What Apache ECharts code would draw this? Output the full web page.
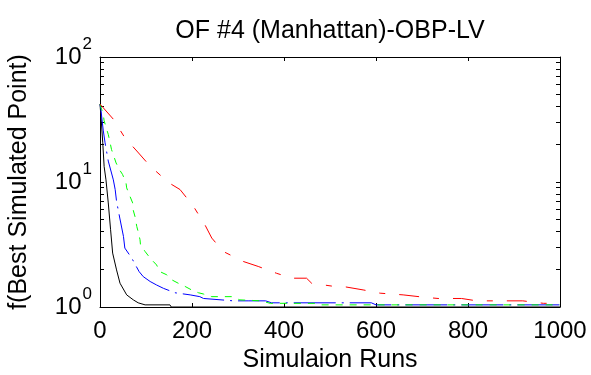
<!DOCTYPE html>
<html>
<head>
<meta charset="utf-8">
<script src="https://cdn.jsdelivr.net/npm/echarts@6/dist/echarts.min.js"></script>
<style>
  html, body { margin: 0; padding: 0; background: #fff; }
  #chart { width: 591px; height: 375px; }
</style>
</head>
<body>
<div id="chart"></div>
<script>
// Best objective value found so far versus number of simulation runs
const chartTitle = 'OF #4 (Manhattan)-OBP-LV';
const xName = 'Simulaion Runs';
const yName = 'f(Best Simulated Point)';

const xTicks = [0, 200, 400, 600, 800, 1000];
const yTickExps = [0, 1, 2];

const blackX = [0, 3, 6, 9, 13, 18, 23, 27.5, 36, 43.5, 58, 72.5, 83, 98, 152, 155, 1000];
const blackY = [42, 30, 20.6, 13.3, 10.4, 6.8, 4.15, 2.7, 1.98, 1.55, 1.25, 1.14, 1.08, 1.04, 1.04, 1.0, 1.0];

const blueX = [0, 2, 5, 7, 11, 18, 25, 29, 33, 36, 43, 51, 54, 69, 85, 94, 109, 123, 138, 163, 196, 217, 225, 290, 322, 360, 373, 590, 600, 1000];
const blueY = [42, 38, 30, 26, 20.6, 14.7, 11.8, 10.4, 8.7, 7.0, 5.15, 3.67, 2.96, 2.46, 1.92, 1.75, 1.6, 1.5, 1.41, 1.30, 1.25, 1.21, 1.17, 1.12, 1.12, 1.12, 1.08, 1.08, 1.04, 1.04];

const greenX = [0, 7, 9, 14.5, 18, 22, 25, 30, 35, 42, 49, 56.5, 58, 65, 71, 72, 76, 80, 83, 87, 88, 98, 109, 116, 123, 130, 145, 156, 170, 185, 199, 214, 225, 243, 286, 304, 350, 370, 470, 480, 1000];
const greenY = [42, 34.8, 30.9, 26.4, 24, 20.6, 18.2, 16.1, 14.2, 12.6, 11.5, 9.85, 8.97, 7.7, 6.8, 6.0, 5.3, 4.4, 4.0, 3.45, 3.15, 2.78, 2.46, 2.31, 2.17, 1.92, 1.81, 1.65, 1.55, 1.46, 1.37, 1.30, 1.27, 1.21, 1.21, 1.14, 1.12, 1.07, 1.07, 1.04, 1.04];

const redX = [0, 29, 54, 80, 109, 134, 145, 174, 203, 221, 228, 243, 268, 297, 312, 344, 384, 417, 449, 460, 504, 533, 572, 609, 659, 702, 735, 786, 819, 870, 919, 964, 1000];
const redY = [42, 31.8, 22.6, 17.7, 13.4, 11.1, 10.1, 8.7, 6.4, 5.0, 4.55, 3.56, 2.78, 2.46, 2.31, 2.11, 1.86, 1.70, 1.70, 1.55, 1.47, 1.45, 1.37, 1.29, 1.25, 1.2, 1.17, 1.17, 1.12, 1.12, 1.12, 1.07, 1.07];

const FONT = 'Liberation Sans, Arial, Helvetica, sans-serif';

function zip(xs, ys) { return xs.map((x, i) => [x, ys[i]]); }

// major decades plus the 2..9 minor positions inside each decade
const yMajor = yTickExps.map(e => Math.pow(10, e));
const yMinor = [];
for (let e = yTickExps[0]; e < yTickExps[yTickExps.length - 1]; e++) {
  for (let m = 1; m < 10; m++) yMinor.push(m * Math.pow(10, e));
}
yMinor.push(Math.pow(10, yTickExps[yTickExps.length - 1]));

const lineAxis = { show: true, onZero: false, lineStyle: { color: '#000', width: 1 } };
const tickStyle = { show: true, inside: true, length: 4, lineStyle: { color: '#000', width: 1 } };

function xAxisDef(pos, labels) {
  return {
    type: 'value', position: pos, min: xTicks[0], max: xTicks[xTicks.length - 1], interval: 200,
    axisLine: lineAxis, axisTick: tickStyle, splitLine: { show: false },
    axisLabel: { show: labels, color: '#000', fontSize: 24, fontFamily: FONT, margin: 12,
                 formatter: v => String(v) },
    name: labels ? xName : '', nameLocation: 'middle', nameGap: 41,
    nameTextStyle: { color: '#000', fontSize: 25, fontFamily: FONT }
  };
}
function yAxisDef(pos, labels) {
  return {
    type: 'log', logBase: 10, position: pos, min: yMajor[0], max: yMajor[yMajor.length - 1],
    axisLine: lineAxis,
    axisTick: Object.assign({}, tickStyle, { customValues: yMinor }),
    splitLine: { show: false }, minorTick: { show: false },
    axisLabel: {
      show: labels, customValues: yMajor, margin: 8,
      formatter: v => '{b|10}{s|' + Math.round(Math.log10(v)) + '}',
      rich: {
        b: { fontSize: 24, fontFamily: FONT, color: '#000', padding: [9, 0, 9, 0] },
        s: { fontSize: 17, fontFamily: FONT, color: '#000', verticalAlign: 'top', padding: [0, 0, 0, 1] }
      }
    },
    name: labels ? yName : '', nameLocation: 'middle', nameGap: 68, nameRotate: 90,
    nameTextStyle: { color: '#000', fontSize: 25, fontFamily: FONT }
  };
}

function lineSeries(xs, ys, color, dash) {
  return {
    type: 'line', data: zip(xs, ys), showSymbol: false, symbol: 'none',
    xAxisIndex: 0, yAxisIndex: 0, animation: false,
    lineStyle: { color: color, width: 1, type: dash }
  };
}

const chart = echarts.init(document.getElementById('chart'), null, { renderer: 'canvas' });
chart.setOption({
  animation: false,
  backgroundColor: '#fff',
  title: {
    text: chartTitle, left: 325, top: 14, textAlign: 'center',
    textStyle: { color: '#000', fontSize: 25, fontWeight: 'normal', fontFamily: FONT }
  },
  grid: { left: 100, right: 31, top: 57, bottom: 68, containLabel: false, outerBoundsMode: 'none' },
  xAxis: [xAxisDef('bottom', true), xAxisDef('top', false)],
  yAxis: [yAxisDef('left', true), yAxisDef('right', false)],
  series: [
    lineSeries(blackX, blackY, '#000000', 'solid'),
    lineSeries(blueX, blueY, '#0000ff', [42, 6, 2, 6]),
    lineSeries(greenX, greenY, '#00ff00', [7, 7]),
    lineSeries(redX, redY, '#ff0000', [20, 14, 6, 14])
  ]
});
</script>
</body>
</html>
